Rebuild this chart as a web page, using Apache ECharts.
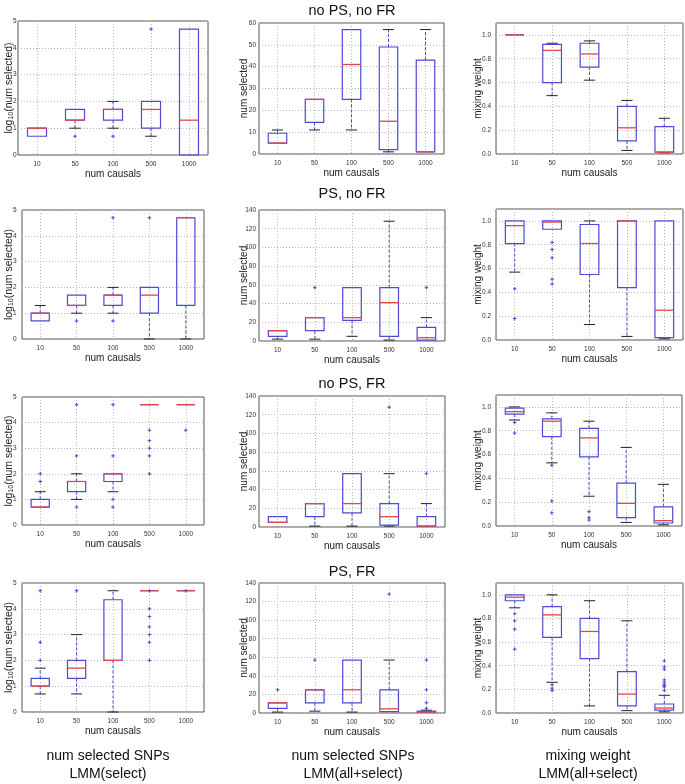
<!DOCTYPE html>
<html>
<head>
<meta charset="utf-8">
<script src="https://cdn.jsdelivr.net/npm/echarts@6/dist/echarts.min.js"></script>
<style>
  html, body { margin: 0; padding: 0; background: #fff; }
  #chart { width: 685px; height: 784px; }
</style>
</head>
<body>
<div id="chart"></div>
<script>
const categories = ['10', '50', '100', '500', '1000']
const rowTitles = ['no PS, no FR', 'PS, no FR', 'no PS, FR', 'PS, FR']
const colTitles = ['num selected SNPs\nLMM(select)', 'num selected SNPs\nLMM(all+select)', 'mixing weight\nLMM(all+select)']

// box stats per category: [low whisker, q1, median, q3, high whisker]
// outliers per category: list of values
const logSel_noPSnoFR = [[0.7, 0.7, 1.0, 1.0, 1.0], [1.0, 1.3, 1.3, 1.7, 1.7], [1.0, 1.3, 1.7, 1.7, 2.0], [0.7, 1.0, 1.7, 2.0, 2.0], [0, 0, 1.3, 4.7, 4.7]]
const logSelOut_noPSnoFR = [[], [0.7], [0.7], [4.7], []]
const numSel_noPSnoFR = [[5, 5, 5, 9.5, 11], [11, 14.5, 25, 25, 25], [11, 25, 41, 57, 57], [1, 2, 15, 49, 57], [1, 1, 1, 43, 57]]
const numSelOut_noPSnoFR = [[], [], [], [], []]
const mixW_noPSnoFR = [[1, 1, 1, 1, 1], [0.49, 0.60, 0.87, 0.92, 0.93], [0.62, 0.73, 0.84, 0.93, 0.95], [0.03, 0.11, 0.22, 0.40, 0.45], [0.01, 0.015, 0.015, 0.23, 0.30]]
const mixWOut_noPSnoFR = [[], [], [], [], []]

const logSel_PSnoFR = [[0.7, 0.7, 1.0, 1.0, 1.3], [1.0, 1.3, 1.3, 1.7, 1.7], [1.0, 1.3, 1.7, 1.7, 2.0], [0, 1.0, 1.7, 2.0, 2.0], [0, 1.3, 4.7, 4.7, 4.7]]
const logSelOut_PSnoFR = [[], [0.7], [0.7, 4.7], [4.7], []]
const numSel_PSnoFR = [[2, 5, 11, 11, 11], [2, 11, 25, 25, 25], [5, 22, 25, 57, 57], [1, 5, 41, 57, 128], [1, 1, 3.5, 14.5, 25]]
const numSelOut_PSnoFR = [[], [57], [], [], [57]]
const mixW_PSnoFR = [[0.57, 0.81, 0.96, 1.0, 1.0], [0.93, 0.93, 0.99, 1.0, 1.0], [0.13, 0.55, 0.81, 0.97, 1.0], [0.03, 0.44, 1.0, 1.0, 1.0], [0.01, 0.02, 0.25, 1.0, 1.0]]
const mixWOut_PSnoFR = [[0.43, 0.18], [0.82, 0.76, 0.69, 0.51, 0.47], [], [], []]

const logSel_noPSFR = [[0.7, 0.7, 0.7, 1.0, 1.3], [1.0, 1.3, 1.7, 1.7, 2.0], [1.3, 1.7, 2.0, 2.0, 2.0], [4.7, 4.7, 4.7, 4.7, 4.7], [4.7, 4.7, 4.7, 4.7, 4.7]]
const logSelOut_noPSFR = [[1.7, 2.0], [0.7, 2.7, 4.7], [1.0, 0.7, 2.7, 4.7], [3.7, 3.3, 3.0, 2.7, 2.0], [3.7]]
const numSel_noPSFR = [[5, 5, 5, 11, 11], [1, 11, 25, 25, 25], [1, 15, 25, 57, 57], [1, 2, 11, 25, 57], [1, 1, 1, 11, 25]]
const numSelOut_noPSFR = [[], [], [], [128], [57]]
const mixW_noPSFR = [[0.89, 0.94, 0.96, 0.99, 1.0], [0.53, 0.75, 0.88, 0.90, 0.95], [0.25, 0.58, 0.74, 0.82, 0.88], [0.03, 0.07, 0.19, 0.36, 0.66], [0.01, 0.025, 0.045, 0.16, 0.35]]
const mixWOut_noPSFR = [[0.87, 0.78], [0.51, 0.21, 0.11], [0.12, 0.07, 0.05], [], []]

const logSel_PSFR = [[0.7, 1.0, 1.0, 1.3, 1.7], [0.7, 1.3, 1.7, 2.0, 3.0], [0, 2.0, 2.0, 4.35, 4.7], [4.7, 4.7, 4.7, 4.7, 4.7], [4.7, 4.7, 4.7, 4.7, 4.7]]
const logSelOut_PSFR = [[2.0, 2.7, 4.7], [4.7], [], [4.7, 4.0, 3.7, 3.3, 3.0, 2.7, 2.0], [4.7]]
const numSel_PSFR = [[1, 5, 11, 11, 11], [2, 11, 25, 25, 25], [1, 11, 25, 57, 57], [1, 1.5, 4.5, 25, 57], [1, 1, 1, 2, 3]]
const numSelOut_PSFR = [[25], [57], [], [128], [5, 11, 25, 57]]
const mixW_PSFR = [[0.89, 0.95, 0.98, 1.0, 1.0], [0.26, 0.64, 0.83, 0.90, 1.0], [0.06, 0.46, 0.69, 0.80, 0.95], [0.02, 0.06, 0.16, 0.35, 0.78], [0.01, 0.025, 0.042, 0.076, 0.15]]
const mixWOut_PSFR = [[0.84, 0.78, 0.71, 0.54], [0.24, 0.21, 0.19], [], [], [0.44, 0.39, 0.37, 0.28, 0.26, 0.24, 0.23, 0.22, 0.19]]

const panels = [
  [logSel_noPSnoFR, logSelOut_noPSnoFR, 0, 5, 1], [numSel_noPSnoFR, numSelOut_noPSnoFR, 1, 60, 10], [mixW_noPSnoFR, mixWOut_noPSnoFR, 2, 1.1, 0.2],
  [logSel_PSnoFR, logSelOut_PSnoFR, 0, 5, 1], [numSel_PSnoFR, numSelOut_PSnoFR, 1, 140, 20], [mixW_PSnoFR, mixWOut_PSnoFR, 2, 1.1, 0.2],
  [logSel_noPSFR, logSelOut_noPSFR, 0, 5, 1], [numSel_noPSFR, numSelOut_noPSFR, 1, 140, 20], [mixW_noPSFR, mixWOut_noPSFR, 2, 1.1, 0.2],
  [logSel_PSFR, logSelOut_PSFR, 0, 5, 1], [numSel_PSFR, numSelOut_PSFR, 1, 140, 20], [mixW_PSFR, mixWOut_PSFR, 2, 1.1, 0.2]
]

// plot rectangles [left, top, width, height]
const gridRects = [
  [18, 21, 190, 134], [259, 23, 185, 131], [496, 23, 187, 131],
  [22, 210, 182, 129], [259, 210, 186, 131], [496, 209, 187, 131],
  [22, 397, 182, 128], [259, 396, 186, 131], [496, 395, 186, 131],
  [22, 583, 182, 129], [259, 583, 186, 130], [496, 583, 187, 130]
]
const titleTops = [3, 186, 376, 564]
const colCenters = [108, 353, 588]

const BLUE = '#4b4bd6'
const RED = '#e04848'
const CAP = '#222'
const FONT = '"Liberation Sans", Arial, sans-serif'

const renderBox = (params, api) => {
  const c = api.value(0)
  const lo = api.coord([c, api.value(1)])
  const q1 = api.coord([c, api.value(2)])
  const md = api.coord([c, api.value(3)])
  const q3 = api.coord([c, api.value(4)])
  const hi = api.coord([c, api.value(5)])
  const band = api.size([1, 0])[0]
  const bw = band * 0.5, cw = band * 0.3
  const x = lo[0]
  const kids = []
  const dash = { stroke: BLUE, lineWidth: 1, lineDash: [3, 2] }
  const cap = { stroke: CAP, lineWidth: 1 }
  if (lo[1] - q1[1] > 0.5) {
    kids.push({ type: 'line', shape: { x1: x, y1: q1[1], x2: x, y2: lo[1] }, style: dash })
    kids.push({ type: 'line', shape: { x1: x - cw / 2, y1: lo[1], x2: x + cw / 2, y2: lo[1] }, style: cap })
  }
  if (q3[1] - hi[1] > 0.5) {
    kids.push({ type: 'line', shape: { x1: x, y1: q3[1], x2: x, y2: hi[1] }, style: dash })
    kids.push({ type: 'line', shape: { x1: x - cw / 2, y1: hi[1], x2: x + cw / 2, y2: hi[1] }, style: cap })
  }
  kids.push({ type: 'rect', shape: { x: x - bw / 2, y: q3[1], width: bw, height: q1[1] - q3[1] }, style: { fill: 'none', stroke: BLUE, lineWidth: 1.2 } })
  kids.push({ type: 'line', shape: { x1: x - bw / 2, y1: md[1], x2: x + bw / 2, y2: md[1] }, style: { stroke: RED, lineWidth: 1.3 } })
  return { type: 'group', children: kids }
}

const renderPlus = (params, api) => {
  const p = api.coord([api.value(0), api.value(1)])
  const s = 1.8
  return {
    type: 'group',
    children: [
      { type: 'line', shape: { x1: p[0] - s, y1: p[1], x2: p[0] + s, y2: p[1] }, style: { stroke: BLUE, lineWidth: 1 } },
      { type: 'line', shape: { x1: p[0], y1: p[1] - s, x2: p[0], y2: p[1] + s }, style: { stroke: BLUE, lineWidth: 1 } }
    ]
  }
}

const dotted = { color: '#b8b8b8', type: [1, 2], width: 1 }
const grid = [], xAxis = [], yAxis = [], series = []
const yNames = ['{a|log}{s|10}{a|(num selected)}', 'num selected', 'mixing weight']

panels.forEach(([boxes, outs, col, max, step], i) => {
  const r = gridRects[i]
  const yGap = col === 0 ? (i === 0 ? 3 : 7) : (col === 1 ? 9.5 : 13)
  const labelMargin = col === 0 ? (i === 0 ? 1.5 : 5.5) : (col === 1 ? 3 : 5)
  grid.push({ left: r[0], top: r[1], width: r[2], height: r[3], show: true, borderColor: '#555', borderWidth: 1, backgroundColor: 'transparent' })
  xAxis.push({
    type: 'category', gridIndex: i, data: categories,
    axisLine: { show: false }, axisTick: { show: false },
    axisLabel: { fontSize: 6.5, color: '#333', margin: 6, fontFamily: FONT },
    splitLine: { show: true, alignWithLabel: true, lineStyle: dotted },
    name: 'num causals', nameLocation: 'middle', nameGap: 14.5, nameMoveOverlap: false,
    nameTextStyle: { fontSize: 10, color: '#222', fontFamily: FONT }
  })
  yAxis.push({
    type: 'value', gridIndex: i, min: 0, max, interval: step,
    axisLine: { show: false }, axisTick: { show: false },
    axisLabel: {
      fontSize: 6.5, color: '#333', margin: labelMargin, fontFamily: FONT,
      showMaxLabel: col !== 2,
      formatter: col === 2 ? (v) => v.toFixed(1) : (v) => String(v)
    },
    splitLine: { show: true, lineStyle: dotted },
    name: yNames[col], nameLocation: 'middle', nameGap: yGap, nameMoveOverlap: false,
    nameTextStyle: {
      fontSize: 10, color: '#222', fontFamily: FONT,
      rich: {
        a: { fontSize: 10.5, color: '#222', fontFamily: FONT },
        s: { fontSize: 7, color: '#222', fontFamily: FONT, padding: [5, 0, 0, 0] }
      }
    }
  })
  series.push({
    type: 'custom', xAxisIndex: i, yAxisIndex: i, renderItem: renderBox,
    data: boxes.map((b, k) => [k, ...b])
  })
  const pts = []
  outs.forEach((list, k) => list.forEach((v) => pts.push([k, v])))
  series.push({ type: 'custom', xAxisIndex: i, yAxisIndex: i, renderItem: renderPlus, data: pts })
})

const title = []
rowTitles.forEach((t, k) => title.push({
  text: t, left: 352, top: titleTops[k], textAlign: 'center', padding: 0,
  textStyle: { fontSize: 14.5, fontWeight: 'normal', color: '#111', fontFamily: FONT }
}))
colTitles.forEach((t, k) => title.push({
  text: t, left: colCenters[k], top: 747, textAlign: 'center', padding: 0,
  textStyle: { fontSize: 14, fontWeight: 'normal', color: '#111', fontFamily: FONT, lineHeight: 18 }
}))

const chart = echarts.init(document.getElementById('chart'))
chart.setOption({ animation: false, backgroundColor: '#fff', title, grid, xAxis, yAxis, series })
</script>
</body>
</html>
